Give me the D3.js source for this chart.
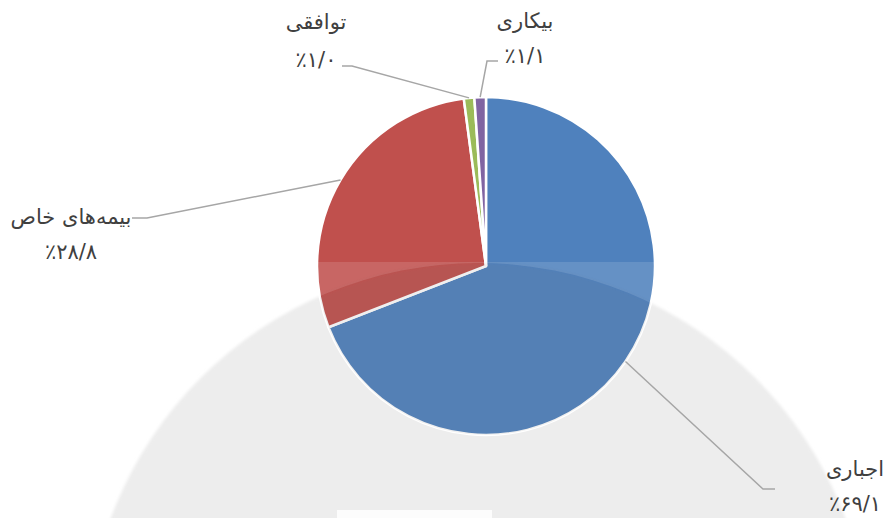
<!DOCTYPE html>
<html>
<head>
<meta charset="utf-8">
<script src="https://cdn.jsdelivr.net/npm/d3@7"></script>
<style>
  body { margin: 0; background: #fff; }
  svg { display: block; }
</style>
</head>
<body>
<div class="container"></div>
<script>
// Frame
const width = 888;
const height = 518;
// Pie geometry
const cx = 486;
const cy = 266;
const radius = 169;

// Data (Persian labels, percent shares)
const categories = ['اجباری', 'بیمه‌های خاص', 'توافقی', 'بیکاری'];
const shares = [69.1, 28.8, 1.0, 1.1];
const shareLabels = ['٪۶۹/۱', '٪۲۸/۸', '٪۱/۰', '٪۱/۱'];

// Colours, Office style
const colors = ['#4f81bd', '#c0504d', '#9bbb59', '#8064a2'];

// Label layout: elbow of the leader, end of the leader, label centre and baselines
const labelLayout = [
  { elbow: [763, 489], end: [775, 489], x: 855, y1: 476, y2: 511 },
  { elbow: [147, 218], end: [132, 218], x: 71, y1: 224, y2: 259 },
  { elbow: [352, 66], end: [342, 66], x: 316, y1: 29, y2: 67 },
  { elbow: [487, 61], end: [498, 61], x: 525, y1: 28, y2: 63 },
];

const data = categories.map((c, i) => ({ name: c, value: shares[i], label: shareLabels[i], i }));

const svg = d3.select('.container')
  .append('svg')
  .attr('width', width)
  .attr('height', height);

const defs = svg.append('defs');
defs.append('filter').attr('id', 'soft')
  .append('feGaussianBlur').attr('stdDeviation', 1.5);
defs.append('clipPath').attr('id', 'pieClip')
  .append('circle').attr('cx', cx).attr('cy', cy).attr('r', radius);

// big grey disk in the background
const disk = { x: 478, y: 655, r: 392 };
svg.append('circle')
  .attr('cx', disk.x).attr('cy', disk.y).attr('r', disk.r)
  .attr('fill', '#ededed')
  .attr('filter', 'url(#soft)');

svg.append('rect')
  .attr('x', 337).attr('y', 510)
  .attr('width', 155).attr('height', 10)
  .attr('fill', '#fcfcfc');

const pie = d3.pie().sort(null).value(d => d.value);
const arc = d3.arc().innerRadius(0).outerRadius(radius);
const outerArc = d3.arc().innerRadius(radius).outerRadius(radius);
const arcs = pie(data);

const g = svg.append('g').attr('transform', `translate(${cx},${cy})`);

g.selectAll('.slice')
  .data(arcs)
  .enter()
  .append('path')
  .attr('class', 'slice')
  .attr('d', arc)
  .attr('fill', d => colors[d.data.i])
  .attr('stroke', '#fff')
  .attr('stroke-width', 2.5)
  .attr('stroke-linejoin', 'round');

// light band on the lower half of the pie, and grey tint where the disk sits behind
const mask = defs.append('mask').attr('id', 'bandMask');
mask.append('rect').attr('x', 0).attr('y', 262).attr('width', width).attr('height', height).attr('fill', '#fff');
mask.append('circle').attr('cx', disk.x).attr('cy', disk.y).attr('r', disk.r).attr('fill', '#000');

const overlay = svg.append('g').attr('clip-path', 'url(#pieClip)');
overlay.append('rect')
  .attr('x', 0).attr('y', 0).attr('width', width).attr('height', height)
  .attr('fill', '#fff').attr('opacity', 0.13)
  .attr('mask', 'url(#bandMask)');
overlay.append('circle')
  .attr('cx', disk.x).attr('cy', disk.y).attr('r', disk.r)
  .attr('fill', '#7e7e7e').attr('opacity', 0.12)
  .attr('filter', 'url(#soft)');

// leader lines
svg.selectAll('.leader')
  .data(arcs)
  .enter()
  .append('polyline')
  .attr('class', 'leader')
  .attr('points', d => {
    const c = outerArc.centroid(d);
    const l = labelLayout[d.data.i];
    return [[c[0] + cx, c[1] + cy], l.elbow, l.end].map(p => p.join(',')).join(' ');
  })
  .attr('fill', 'none')
  .attr('stroke', '#a6a6a6')
  .attr('stroke-width', 1.5);

// labels
const labels = svg.selectAll('.label')
  .data(data)
  .enter()
  .append('g')
  .attr('class', 'label')
  .style('font-family', '"DejaVu Sans", sans-serif')
  .style('font-size', '21px')
  .attr('fill', '#404040')
  .attr('text-anchor', 'middle');

labels.append('text')
  .attr('x', d => labelLayout[d.i].x)
  .attr('y', d => labelLayout[d.i].y1)
  .text(d => d.name);

labels.append('text')
  .attr('x', d => labelLayout[d.i].x)
  .attr('y', d => labelLayout[d.i].y2)
  .text(d => d.label);
</script>
</body>
</html>
